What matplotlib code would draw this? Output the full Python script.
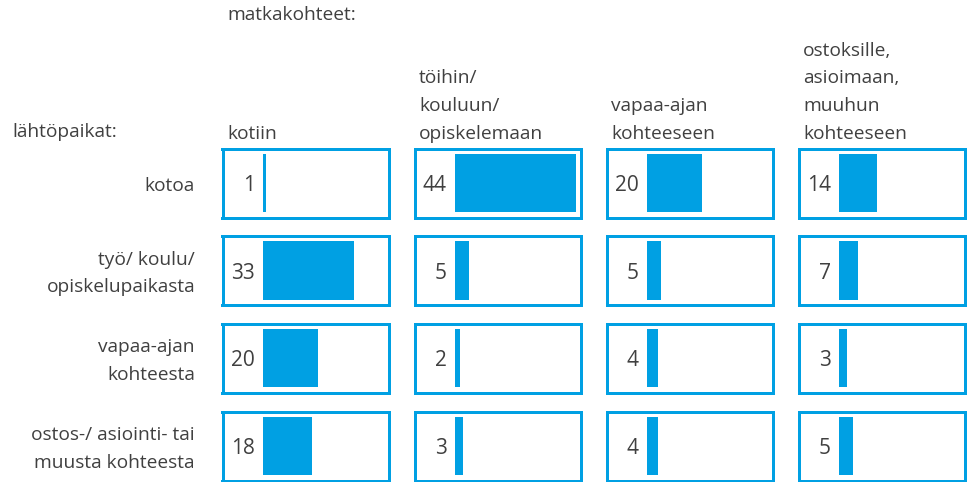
import matplotlib
matplotlib.use("Agg")
import matplotlib.pyplot as plt

# lähtöpaikat (rows) x matkakohteet (columns)
origins = ["kotoa", "työ/ koulu/\nopiskelupaikasta", "vapaa-ajan\nkohteesta",
           "ostos-/ asiointi- tai\nmuusta kohteesta"]
destinations = ["kotiin", "töihin/\nkouluun/\nopiskelemaan", "vapaa-ajan\nkohteeseen",
                "ostoksille,\nasioimaan,\nmuuhun\nkohteeseen"]
values = [
    [1, 44, 20, 14],
    [33, 5, 5, 7],
    [20, 2, 4, 3],
    [18, 3, 4, 5],
]

BLUE = "#00a0e3"
TEXT = "#404040"
W, H = 973, 482

plt.rcParams['font.family'] = ['Open Sans', 'DejaVu Sans']
fig = plt.figure(figsize=(W / 100, H / 100), dpi=100)
fs = 13.8
ls = 1.7


def px(x, y):
    # pixel coords (top-left origin) -> figure fraction
    return x / W, 1 - y / H


box_left = [221, 413, 605, 797]
box_top = [147, 234.5, 322, 410]
box_w, box_h, lw = 169, 72, 3

for i, origin in enumerate(origins):
    for j, dest in enumerate(destinations):
        x0 = box_left[j] + lw / 2
        y0 = box_top[i] + box_h - lw / 2
        fx, fy = px(x0, y0)
        ax = fig.add_axes([fx, fy, (box_w - lw) / W, (box_h - lw) / H])
        v = values[i][j]
        ax.barh(0, v, height=0.855, left=0, color=BLUE)
        ax.set_xlim(-14.7, 45.7)
        ax.set_ylim(-0.5, 0.5)
        ax.set_xticks([])
        ax.set_yticks([])
        for s in ax.spines.values():
            s.set_color(BLUE)
            s.set_linewidth(lw * 0.72)
        ax.text(-3.0, -0.04, str(v), ha="right", va="center", fontsize=15, color=TEXT)

    # row label
    cy = box_top[i] + box_h / 2 + 3
    fig.text(*px(195, cy), origin, ha="right", va="center", multialignment="right",
             fontsize=fs, color=TEXT, linespacing=ls)

for j, dest in enumerate(destinations):
    fig.text(*px(box_left[j] + 6, 143), dest, ha="left", va="bottom",
             fontsize=fs, color=TEXT, linespacing=ls)

fig.text(*px(227, 15), "matkakohteet:", ha="left", va="center", fontsize=fs, color=TEXT)
fig.text(*px(12, 132), "lähtöpaikat:", ha="left", va="center", fontsize=fs, color=TEXT)

fig.savefig("out.png", dpi=100)
